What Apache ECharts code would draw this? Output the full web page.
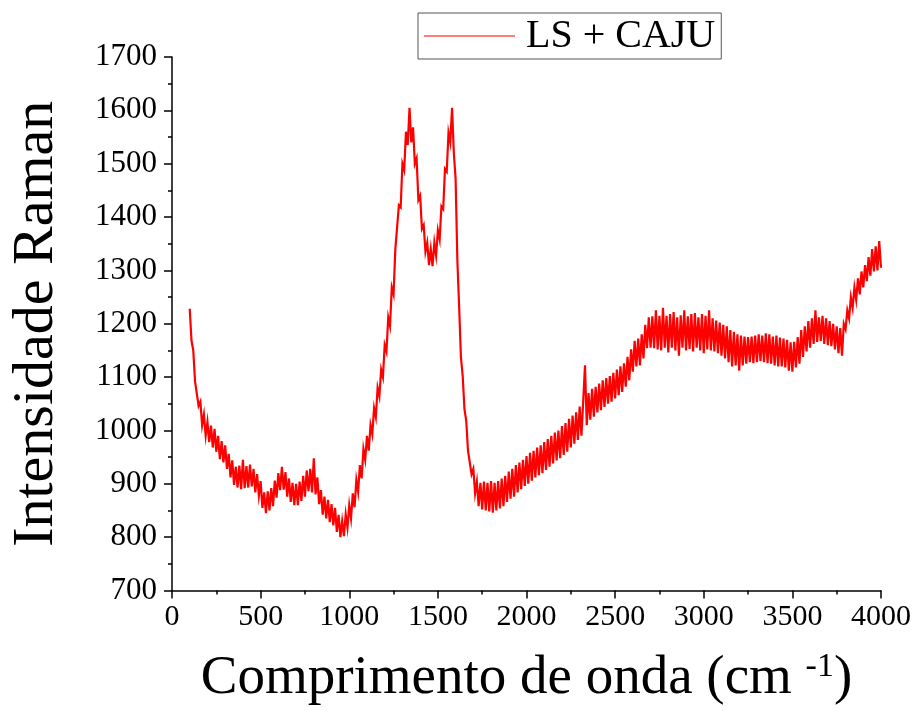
<!DOCTYPE html>
<html>
<head>
<meta charset="utf-8">
<script src="https://cdn.jsdelivr.net/npm/echarts@6/dist/echarts.min.js"></script>
<style>
html,body{margin:0;padding:0;background:#fff;}
#chart{width:919px;height:711px;}
</style>
</head>
<body>
<div id="chart"></div>
<script>
// Raman shift (cm-1) sample positions
const wavenumber = [
100,110,120,130,140,150,160,170,180,190,200,210,220,230,240,250,260,270,280,290,
300,310,320,330,340,350,360,370,380,390,400,410,420,430,440,450,460,470,480,490,
500,510,520,530,540,550,560,570,580,590,600,610,620,630,640,650,660,670,680,690,
700,710,720,730,740,750,760,770,780,790,800,810,820,830,840,850,860,870,880,890,
900,910,920,930,940,950,960,970,980,990,1000,1010,1020,1030,1040,1050,1060,1070,1080,1090,
1100,1110,1120,1130,1140,1150,1160,1170,1180,1190,1200,1210,1220,1230,1240,1250,1260,1270,1280,1290,
1300,1310,1320,1330,1340,1350,1360,1370,1380,1390,1400,1410,1420,1430,1440,1450,1460,1470,1480,1490,
1500,1510,1520,1530,1540,1550,1560,1570,1580,1590,1600,1610,1620,1630,1640,1650,1660,1670,1680,1690,
1700,1710,1720,1730,1740,1750,1760,1770,1780,1790,1800,1810,1820,1830,1840,1850,1860,1870,1880,1890,
1900,1910,1920,1930,1940,1950,1960,1970,1980,1990,2000,2010,2020,2030,2040,2050,2060,2070,2080,2090,
2100,2110,2120,2130,2140,2150,2160,2170,2180,2190,2200,2210,2220,2230,2240,2250,2260,2270,2280,2290,
2300,2310,2320,2330,2340,2350,2360,2370,2380,2390,2400,2410,2420,2430,2440,2450,2460,2470,2480,2490,
2500,2510,2520,2530,2540,2550,2560,2570,2580,2590,2600,2610,2620,2630,2640,2650,2660,2670,2680,2690,
2700,2710,2720,2730,2740,2750,2760,2770,2780,2790,2800,2810,2820,2830,2840,2850,2860,2870,2880,2890,
2900,2910,2920,2930,2940,2950,2960,2970,2980,2990,3000,3010,3020,3030,3040,3050,3060,3070,3080,3090,
3100,3110,3120,3130,3140,3150,3160,3170,3180,3190,3200,3210,3220,3230,3240,3250,3260,3270,3280,3290,
3300,3310,3320,3330,3340,3350,3360,3370,3380,3390,3400,3410,3420,3430,3440,3450,3460,3470,3480,3490,
3500,3510,3520,3530,3540,3550,3560,3570,3580,3590,3600,3610,3620,3630,3640,3650,3660,3670,3680,3690,
3700,3710,3720,3730,3740,3750,3760,3770,3780,3790,3800,3810,3820,3830,3840,3850,3860,3870,3880,3890,
3900,3910,3920,3930,3940,3950,3960,3970,3980,3990,4000
];
// Raman intensity (noisy spectrum)
const intensity = [
1228,1168,1150,1092,1090,1046,1054,1010,1030,990,1016,978,1009,968,1003,960,990,946,980,940,
972,928,956,912,944,898,932,893,934,890,945,892,933,893,936,895,928,884,918,878,
905,855,884,845,886,850,892,858,906,874,920,888,932,889,922,876,910,866,902,860,
900,860,904,868,915,876,925,886,928,884,948,880,912,862,888,842,876,835,870,828,
862,822,855,810,842,800,830,802,843,818,860,835,882,856,907,885,935,910,965,945,
990,962,1010,993,1042,1025,1080,1064,1114,1100,1160,1148,1212,1196,1268,1255,1340,1340,1422,1418,
1500,1488,1560,1535,1605,1540,1568,1500,1510,1432,1440,1378,1385,1335,1352,1310,1340,1308,1352,1328,
1375,1358,1420,1415,1490,1485,1558,1540,1605,1520,1472,1318,1232,1138,1102,1040,1018,962,962,918,
928,882,904,858,902,852,904,850,902,848,905,846,902,850,905,854,910,858,915,866,
923,872,928,876,935,884,940,890,945,896,952,900,958,906,962,912,968,916,972,920,
978,926,984,932,990,938,996,944,1000,948,1008,954,1014,960,1022,968,1028,975,1034,982,
1045,990,1055,1122,1010,1070,1020,1078,1026,1082,1034,1088,1038,1094,1044,1098,1050,1102,1054,1108,
1060,1114,1066,1120,1072,1126,1082,1138,1094,1152,1110,1168,1120,1172,1122,1180,1135,1198,1154,1212,
1155,1214,1154,1225,1152,1215,1150,1230,1155,1215,1146,1218,1155,1222,1150,1212,1140,1216,1155,1225,
1150,1214,1153,1218,1148,1220,1155,1212,1150,1218,1145,1215,1152,1225,1150,1210,1148,1206,1145,1202,
1140,1198,1135,1195,1128,1188,1120,1185,1122,1180,1112,1178,1122,1176,1125,1175,1128,1176,1126,1178,
1128,1180,1130,1178,1128,1182,1126,1180,1125,1176,1122,1178,1120,1174,1120,1172,1118,1170,1112,1165,
1110,1166,1118,1175,1125,1188,1138,1195,1148,1205,1155,1210,1162,1225,1166,1212,1168,1215,1162,1210,
1160,1205,1158,1200,1152,1195,1145,1192,1140,1200,1190,1225,1210,1250,1230,1268,1245,1285,1255,1298,
1268,1310,1280,1325,1290,1340,1298,1345,1300,1355,1305
];
const xTicks = { min: 0, max: 4000, step: 500 };
const yTicks = { min: 700, max: 1700, step: 100 };
const seriesName = 'LS + CAJU';

const data = wavenumber.map((w, i) => [w, intensity[i]]);
const serif = "'Liberation Serif', 'Times New Roman', serif";
const plain = v => String(v);

const chart = echarts.init(document.getElementById('chart'), null, { renderer: 'canvas' });
chart.setOption({
  animation: false,
  backgroundColor: '#ffffff',
  grid: { left: 166, right: 38, top: 57, bottom: 120, containLabel: false },
  legend: {
    data: [{ name: seriesName, icon: 'rect' }],
    left: 418, top: 13,
    padding: [3, 6, 3, 6],
    borderColor: '#555', borderWidth: 1,
    itemWidth: 91, itemHeight: 1.2,
    itemStyle: { color: '#ff0000' },
    textStyle: { fontFamily: serif, fontSize: 40, color: '#000', padding: [0, 0, 0, 6], lineHeight: 40 }
  },
  xAxis: {
    type: 'value', min: xTicks.min, max: xTicks.max, interval: xTicks.step,
    name: 'Comprimento de onda (cm {sup|-1})',
    nameLocation: 'middle', nameGap: 60,
    nameTextStyle: {
      fontFamily: serif, fontSize: 55, color: '#000',
      rich: { sup: { fontFamily: serif, fontSize: 34, color: '#000', verticalAlign: 'top', padding: [0, 0, 22, 0] } }
    },
    axisLine: { show: true, onZero: false, lineStyle: { color: '#000', width: 1.5 } },
    axisTick: { show: true, inside: false, length: 8, lineStyle: { color: '#000', width: 1.5 } },
    minorTick: { show: true, splitNumber: 2, length: 4, lineStyle: { color: '#000', width: 1.5 } },
    axisLabel: { fontFamily: serif, fontSize: 30, color: '#000', margin: 12, formatter: plain },
    splitLine: { show: false }
  },
  yAxis: {
    type: 'value', min: yTicks.min, max: yTicks.max, interval: yTicks.step,
    name: 'Intensidade Raman',
    nameLocation: 'middle', nameGap: 106,
    nameTextStyle: { fontFamily: serif, fontSize: 58, color: '#000' },
    axisLine: { show: true, onZero: false, lineStyle: { color: '#000', width: 1.5 } },
    axisTick: { show: true, inside: false, length: 8, lineStyle: { color: '#000', width: 1.5 } },
    minorTick: { show: true, splitNumber: 2, length: 4, lineStyle: { color: '#000', width: 1.5 } },
    axisLabel: { fontFamily: serif, fontSize: 31, color: '#000', margin: 15, formatter: plain },
    splitLine: { show: false }
  },
  series: [{
    name: seriesName,
    type: 'line',
    data: data,
    symbol: 'none',
    showSymbol: false,
    color: '#ff0000',
    lineStyle: { color: '#ff0000', width: 2.2, join: 'miter' }
  }]
});
</script>
</body>
</html>
